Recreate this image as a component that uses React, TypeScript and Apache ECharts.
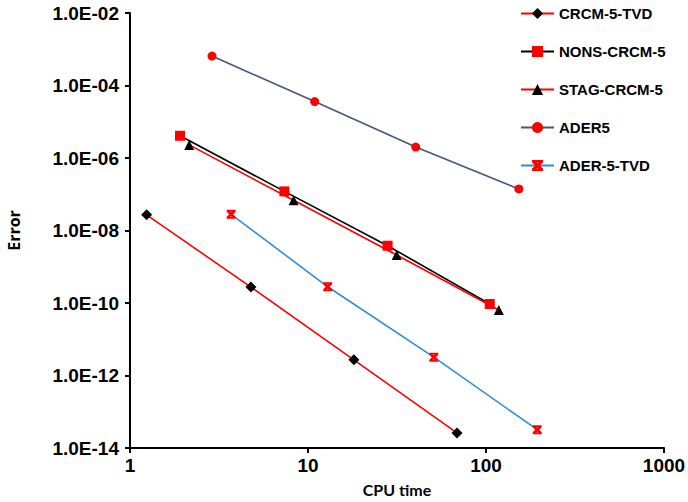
import React, { useEffect, useRef } from "react";
import * as echarts from "echarts";

const seriesNames = ["CRCM-5-TVD", "NONS-CRCM-5", "STAG-CRCM-5", "ADER5", "ADER-5-TVD"];

const crcmTvdX = [1.24, 4.78, 18.1, 68.7];
const crcmTvdY = [2.7e-8, 2.75e-10, 2.7e-12, 2.6e-14];

const nonsX = [1.91, 7.37, 28, 105];
const nonsY = [4.1e-6, 1.2e-7, 3.8e-9, 9.4e-11];

const stagX = [2.15, 8.3, 31.5, 118];
const stagY = [2.3e-6, 6.8e-8, 2.1e-9, 6.4e-11];

const ader5X = [2.89, 10.9, 40.3, 153];
const ader5Y = [6.5e-4, 3.6e-5, 2.0e-6, 1.4e-7];

const aderTvdX = [3.7, 12.9, 50.9, 194];
const aderTvdY = [2.8e-8, 2.8e-10, 3.2e-12, 3.2e-14];

const xTickLabels = ["1", "10", "100", "1000"];

const pair = (xs: number[], ys: number[]) => xs.map((x, i) => [x, ys[i]]);

const starPath =
  "path://M0,0 H10 V2 H0 Z M0,8 H10 V10 H0 Z M0,0 L2.2,0 L10,7.8 L10,10 L7.8,10 L0,2.2 Z M10,0 L10,2.2 L2.2,10 L0,10 L0,7.8 L7.8,0 Z";

export default function App() {
  const ref = useRef<HTMLDivElement>(null);
  useEffect(() => {
    if (!ref.current) return;
    const chart = echarts.init(ref.current, undefined, { renderer: "svg" });
    const font = "Liberation Sans, Arial, sans-serif";
    const nameFont = "Open Sans, sans-serif";
    const mk = (
      name: string,
      data: number[][],
      lineColor: string,
      symbol: string,
      symbolSize: number,
      symColor: string
    ) => ({
      name,
      type: "line",
      data,
      symbol,
      symbolSize,
      showSymbol: true,
      lineStyle: { color: lineColor, width: 1.6 },
      itemStyle: { color: symColor, borderWidth: 0 },
      emphasis: { disabled: true },
    });
    chart.setOption({
      animation: false,
      backgroundColor: "#ffffff",
      grid: { left: 130, right: 24, top: 13, bottom: 54, outerBoundsMode: "none", containLabel: false },
      legend: {
        orient: "vertical",
        left: 515,
        top: 1,
        itemWidth: 33,
        itemHeight: 14,
        itemGap: 23,
        data: seriesNames,
        textStyle: { fontFamily: font, fontWeight: "bold", fontSize: 15, color: "#000" },
      },
      xAxis: {
        type: "log",
        logBase: 10,
        min: 1,
        max: 1000,
        name: "CPU time",
        nameLocation: "middle",
        nameGap: 33,
        nameTextStyle: { fontFamily: "Lato, sans-serif", fontWeight: "bold", fontSize: 16, color: "#000" },
        axisLine: { lineStyle: { color: "#000", width: 2 } },
        axisTick: { show: true, length: 5, lineStyle: { color: "#000", width: 2 } },
        minorTick: { show: false },
        splitLine: { show: false },
        axisLabel: {
          fontFamily: font,
          fontWeight: "bold",
          fontSize: 19,
          color: "#000",
          margin: 8,
          formatter: (v: number) => xTickLabels[Math.round(Math.log10(v))] ?? "",
        },
      },
      yAxis: {
        type: "log",
        logBase: 10,
        min: 1e-14,
        max: 1e-2,
        interval: 2,
        name: "Error",
        nameLocation: "middle",
        nameGap: 108,
        nameRotate: 90,
        nameTextStyle: { fontFamily: nameFont, fontWeight: "bold", fontSize: 16, color: "#000" },
        axisLine: { show: true, lineStyle: { color: "#000", width: 2 } },
        axisTick: { show: true, length: 5, lineStyle: { color: "#000", width: 2 } },
        splitLine: { show: false },
        axisLabel: {
          fontFamily: font,
          fontWeight: "bold",
          fontSize: 19,
          color: "#000",
          margin: 11,
          formatter: (v: number) => {
            const e = Math.round(Math.log10(v));
            const a = Math.abs(e);
            return "1.0E" + (e < 0 ? "-" : "+") + (a < 10 ? "0" + a : "" + a);
          },
        },
      },
      series: [
        mk(seriesNames[0], pair(crcmTvdX, crcmTvdY), "#ff0000", "diamond", 11, "#000000"),
        mk(seriesNames[1], pair(nonsX, nonsY), "#000000", "rect", 10, "#ff0000"),
        mk(seriesNames[2], pair(stagX, stagY), "#ff0000", "triangle", 10, "#000000"),
        mk(seriesNames[3], pair(ader5X, ader5Y), "#44587a", "circle", 9, "#ff0000"),
        mk(seriesNames[4], pair(aderTvdX, aderTvdY), "#2e8fd8", starPath, 9, "#ff0000"),
      ],
    });
    return () => chart.dispose();
  }, []);
  return (
    <div
      ref={ref}
      style={{ position: "absolute", left: 0, top: 0, width: 688, height: 502, background: "#fff" }}
    />
  );
}
